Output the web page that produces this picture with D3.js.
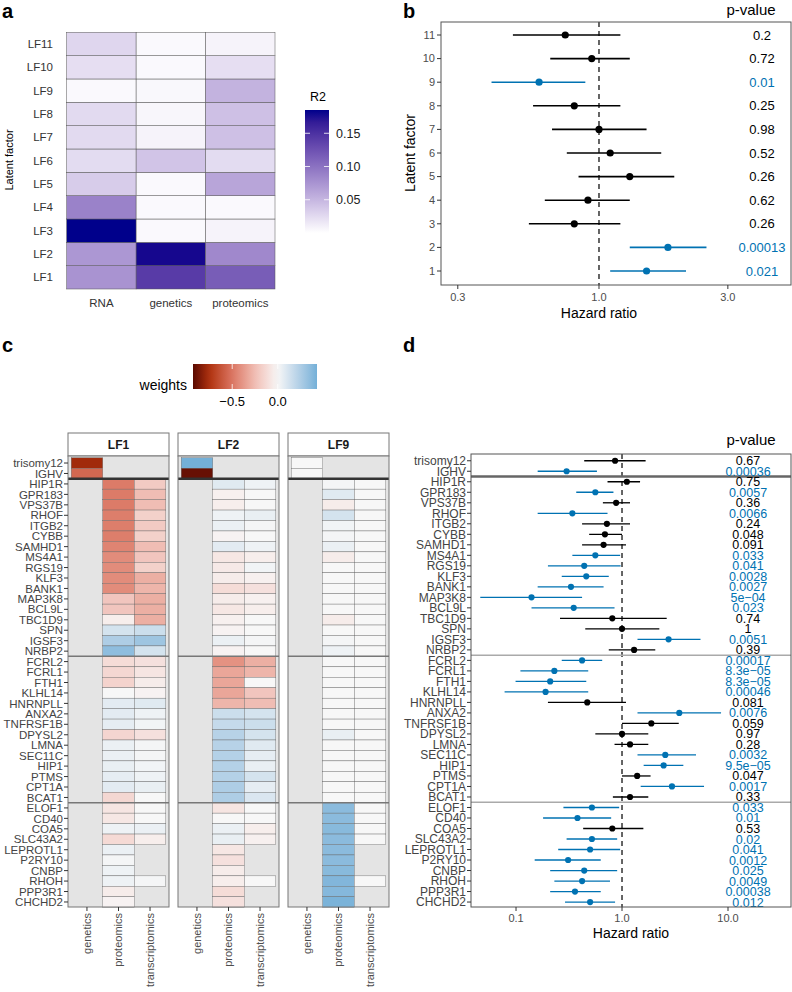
<!DOCTYPE html>
<html>
<head>
<meta charset="utf-8">
<script src="https://cdn.jsdelivr.net/npm/d3@7"></script>
<style>
  body { margin: 0; background: #fff; }
  text { font-family: "Liberation Sans", Arial, Helvetica, sans-serif; }
</style>
</head>
<body>
<svg id="fig" width="792" height="992"></svg>
<script>
// ---------- data: panel a (variance explained) ----------
const factorsA = ['LF1', 'LF2', 'LF3', 'LF4', 'LF5', 'LF6', 'LF7', 'LF8', 'LF9', 'LF10', 'LF11'];
const viewsA = ['RNA', 'genetics', 'proteomics'];
const r2RNA = [0.075, 0.072, 0.185, 0.088, 0.035, 0.024, 0.025, 0.025, 0.004, 0.022, 0.028];
const r2Genetics = [0.142, 0.18, 0.004, 0.004, 0.004, 0.04, 0.008, 0.006, 0.005, 0.004, 0.004];
const r2Proteomics = [0.116, 0.083, 0.008, 0.004, 0.062, 0.024, 0.043, 0.043, 0.052, 0.022, 0.008];
const r2Ticks = [0.05, 0.10, 0.15];

// ---------- data: panel b (hazard ratio per factor) ----------
const lfIds = [1, 2, 3, 4, 5, 6, 7, 8, 9, 10, 11];
const hrLF = [1.5, 1.8, 0.81, 0.91, 1.3, 1.1, 1.0, 0.81, 0.60, 0.94, 0.75];
const hrLFLow = [1.1, 1.3, 0.55, 0.63, 0.84, 0.76, 0.67, 0.57, 0.40, 0.66, 0.48];
const hrLFHigh = [2.1, 2.5, 1.2, 1.3, 1.9, 1.7, 1.5, 1.2, 0.89, 1.3, 1.2];
const pLF = ['0.021', '0.00013', '0.26', '0.62', '0.26', '0.52', '0.98', '0.25', '0.01', '0.72', '0.2'];
const sigLF = [true, true, false, false, false, false, false, false, true, false, false];
const hrTicksB = [0.3, 1, 3];

// ---------- data: panels c and d (features) ----------
const features = ['trisomy12', 'IGHV',
  'HIP1R', 'GPR183', 'VPS37B', 'RHOF', 'ITGB2', 'CYBB', 'SAMHD1', 'MS4A1', 'RGS19', 'KLF3', 'BANK1',
  'MAP3K8', 'BCL9L', 'TBC1D9', 'SPN', 'IGSF3', 'NRBP2',
  'FCRL2', 'FCRL1', 'FTH1', 'KLHL14', 'HNRNPLL', 'ANXA2', 'TNFRSF1B', 'DPYSL2', 'LMNA', 'SEC11C',
  'HIP1', 'PTMS', 'CPT1A', 'BCAT1',
  'ELOF1', 'CD40', 'COA5', 'SLC43A2', 'LEPROTL1', 'P2RY10', 'CNBP', 'RHOH', 'PPP3R1', 'CHCHD2'];
const groupStarts = ['HIP1R', 'FCRL2', 'ELOF1'];
const weightViews = ['genetics', 'proteomics', 'transcriptomics'];
const facetsC = ['LF1', 'LF2', 'LF9'];
const N = null;

// genetics weights (only trisomy12, IGHV)
const lf1Genetics = [-0.78, -0.55];
const lf2Genetics = [0.43, -0.9];
const lf9Genetics = [0.0, 0.0];

// proteomics / transcriptomics weights, rows HIP1R .. CHCHD2
const lf1Proteomics = [-0.48, -0.48, -0.48, -0.47, -0.47, -0.47, -0.45, -0.42, -0.42, -0.42, -0.42, -0.22, -0.22, -0.04, 0.12, 0.25, 0.35,
  -0.12, -0.14, -0.16, 0.0, 0.07, 0.07, 0.06, -0.15, 0.04, 0.04, 0.05, 0.06, 0.07, -0.14,
  -0.08, -0.07, 0.03, -0.13, 0.04, 0.01, 0.03, 0.03, -0.05, -0.02];
const lf1Transcriptomics = [-0.2, -0.25, -0.25, -0.17, -0.2, -0.17, -0.25, -0.22, -0.17, -0.3, -0.28, -0.3, -0.3, -0.3, 0.15, 0.3, 0.12,
  -0.1, -0.08, -0.05, -0.02, 0.08, 0.03, 0.02, -0.1, 0.01, 0.01, 0.02, 0.03, 0.05, 0.0,
  0.0, 0.0, 0.04, -0.04, N, N, N, 0.01, N, N];
const lf2Proteomics = [0.08, -0.03, -0.04, 0.03, 0.04, -0.02, 0.07, -0.07, -0.06, -0.05, -0.12, -0.05, -0.07, -0.03, -0.02, 0.04, -0.02,
  -0.4, -0.33, -0.33, -0.33, -0.28, 0.15, 0.17, 0.22, 0.22, 0.23, 0.23, 0.23, 0.25, 0.25,
  -0.08, 0.0, 0.04, 0.05, -0.07, -0.1, -0.05, -0.04, -0.12, -0.1];
const lf2Transcriptomics = [0.03, 0.0, 0.0, 0.05, 0.01, 0.0, 0.03, -0.04, 0.02, -0.03, -0.1, -0.03, -0.04, 0.0, 0.0, 0.01, 0.0,
  -0.3, -0.28, 0.0, -0.22, -0.25, 0.12, 0.15, 0.12, 0.08, 0.06, 0.05, 0.12, 0.06, 0.1,
  0.0, 0.0, -0.04, -0.03, N, N, N, 0.0, N, N];
const lf9Proteomics = [0.01, 0.08, -0.05, 0.12, 0.02, 0.01, 0.04, -0.05, 0.0, 0.0, 0.0, 0.0, 0.0, -0.05, 0.0, 0.01, 0.03,
  0.0, 0.0, 0.0, 0.0, 0.0, 0.0, 0.0, 0.05, 0.0, 0.0, 0.0, 0.0, 0.0, 0.0,
  0.36, 0.36, 0.37, 0.36, 0.36, 0.36, 0.37, 0.39, 0.38, 0.41];
const lf9Transcriptomics = [0.0, 0.0, 0.0, 0.0, 0.0, 0.0, 0.0, 0.0, 0.0, 0.0, 0.0, 0.0, 0.0, 0.0, 0.0, 0.0, 0.0,
  0.0, 0.0, 0.0, 0.0, 0.0, 0.0, 0.0, 0.0, 0.0, 0.0, 0.0, 0.0, 0.0, 0.0,
  0.0, 0.0, 0.0, 0.0, N, N, N, 0.0, N, N];
const weightTicks = [-0.5, 0.0];

// hazard ratios per feature (panel d)
const hrFeat = [0.86, 0.30, 1.11, 0.56, 0.88, 0.34, 0.72, 0.69, 0.67, 0.56, 0.44, 0.46, 0.33, 0.14, 0.35, 0.81, 1.0, 2.75, 1.30,
  0.42, 0.23, 0.21, 0.19, 0.47, 3.47, 1.89, 1.0, 1.19, 2.56, 2.47, 1.39, 2.96, 1.19,
  0.52, 0.38, 0.81, 0.52, 0.50, 0.31, 0.44, 0.42, 0.36, 0.50];
const hrFeatLow = [0.44, 0.16, 0.73, 0.37, 0.66, 0.16, 0.42, 0.49, 0.42, 0.34, 0.20, 0.27, 0.16, 0.046, 0.14, 0.26, 0.45, 1.40, 0.75,
  0.27, 0.11, 0.099, 0.078, 0.20, 1.40, 1.0, 0.56, 0.85, 1.40, 1.60, 1.0, 1.50, 0.82,
  0.28, 0.18, 0.43, 0.30, 0.25, 0.15, 0.21, 0.23, 0.21, 0.29];
const hrFeatHigh = [1.67, 0.58, 1.48, 0.83, 1.19, 0.73, 1.19, 1.0, 1.09, 0.96, 0.97, 0.75, 0.67, 0.42, 0.85, 2.64, 2.25, 5.5, 2.06,
  0.65, 0.48, 0.46, 0.48, 1.09, 8.6, 3.43, 1.77, 1.77, 4.99, 3.79, 1.86, 5.94, 1.77,
  0.94, 0.79, 1.59, 0.90, 0.96, 0.63, 0.90, 0.77, 0.63, 0.86];
const pFeat = ['0.67', '0.00036', '0.75', '0.0057', '0.36', '0.0066', '0.24', '0.048', '0.091', '0.033', '0.041', '0.0028',
  '0.0027', '5e\u221204', '0.023', '0.74', '1', '0.0051', '0.39',
  '0.00017', '8.3e\u221205', '8.3e\u221205', '0.00046', '0.081', '0.0076', '0.059', '0.97', '0.28', '0.0032', '9.5e\u221205',
  '0.047', '0.0017', '0.33',
  '0.033', '0.01', '0.53', '0.02', '0.041', '0.0012', '0.025', '0.0049', '0.00038', '0.012'];
const sigFeat = [false, true, false, true, false, true, false, false, false, true, true, true, true, true, true, false, false, true, false,
  true, true, true, true, false, true, false, false, false, true, true, false, true, false,
  true, true, false, true, true, true, true, true, true, true];
const hrTicksD = [0.1, 1, 10];

// ---------- setup ----------
const svg = d3.select('#fig');
const BLUE = '#0072B2';
const AXIS_GREY = '#4d4d4d';
const fmt1 = d3.format('.1f');

const panelLabel = (x, y, s) => svg.append('text')
  .attr('x', x).attr('y', y).attr('font-size', 20).attr('font-weight', 'bold').text(s);

panelLabel(2, 18, 'a');
panelLabel(403, 18, 'b');
panelLabel(2, 352, 'c');
panelLabel(403, 352, 'd');

/* ---------- Panel a ---------- */
const gA = svg.append('g');
const r2Max = d3.max([...r2RNA, ...r2Genetics, ...r2Proteomics]);
const colorA = d3.scaleLinear().domain([0, r2Max]).range(['#ffffff', '#00008b']).interpolate(d3.interpolateLab);
const xA = d3.scaleBand().domain(viewsA).range([66.7, 275]);
const yA = d3.scaleBand().domain(factorsA.slice().reverse()).range([32.3, 289]);

const cellsA = [];
factorsA.forEach((f, i) => {
  cellsA.push({ f, view: 'RNA', v: r2RNA[i] });
  cellsA.push({ f, view: 'genetics', v: r2Genetics[i] });
  cellsA.push({ f, view: 'proteomics', v: r2Proteomics[i] });
});

gA.selectAll('rect.cell')
  .data(cellsA)
  .join('rect')
  .attr('x', d => xA(d.view))
  .attr('y', d => yA(d.f))
  .attr('width', xA.bandwidth())
  .attr('height', yA.bandwidth())
  .attr('fill', d => colorA(d.v))
  .attr('stroke', '#555')
  .attr('stroke-width', 0.5);

gA.selectAll('text.row')
  .data(factorsA)
  .join('text')
  .attr('x', 53)
  .attr('y', d => yA(d) + yA.bandwidth() / 2)
  .attr('dy', '0.35em')
  .attr('text-anchor', 'end')
  .attr('font-size', 11.5)
  .attr('fill', '#333')
  .text(d => d);

gA.selectAll('text.col')
  .data(viewsA)
  .join('text')
  .attr('x', d => xA(d) + xA.bandwidth() / 2)
  .attr('y', 307)
  .attr('text-anchor', 'middle')
  .attr('font-size', 11.5)
  .attr('fill', '#333')
  .text(d => d);

gA.append('text')
  .attr('transform', 'translate(13,160) rotate(-90)')
  .attr('text-anchor', 'middle')
  .attr('font-size', 11)
  .text('Latent factor');

// R2 colour bar
const yR2 = d3.scaleLinear().domain([0, r2Max]).range([233, 110]);
const defs = svg.append('defs');
const gradA = defs.append('linearGradient').attr('id', 'gradA')
  .attr('x1', 0).attr('y1', 1).attr('x2', 0).attr('y2', 0);
d3.range(0, 1.001, 0.1).forEach(t => {
  gradA.append('stop').attr('offset', t).attr('stop-color', colorA(t * r2Max));
});
gA.append('rect')
  .attr('x', 305).attr('y', yR2(r2Max))
  .attr('width', 24).attr('height', yR2(0) - yR2(r2Max))
  .attr('fill', 'url(#gradA)');
r2Ticks.forEach(t => {
  gA.append('line').attr('x1', 305).attr('x2', 310).attr('y1', yR2(t)).attr('y2', yR2(t))
    .attr('stroke', '#fff').attr('stroke-width', 0.8);
  gA.append('line').attr('x1', 324).attr('x2', 329).attr('y1', yR2(t)).attr('y2', yR2(t))
    .attr('stroke', '#fff').attr('stroke-width', 0.8);
  gA.append('text').attr('x', 336).attr('y', yR2(t)).attr('dy', '0.35em')
    .attr('font-size', 12.5).attr('fill', '#222').text(d3.format('.2f')(t));
});
gA.append('text').attr('x', 310).attr('y', 101).attr('font-size', 12.5).text('R2');

/* ---------- Panel b ---------- */
const gB = svg.append('g');
const bBox = { left: 441, right: 791, top: 22, bottom: 285 };
const xB = d3.scaleLog().domain([0.26, 5.14]).range([bBox.left, bBox.right]);
const yB = d3.scaleLinear().domain([1, 11]).range([271, 35]);

const forestB = lfIds.map((id, i) => ({
  id, hr: hrLF[i], lo: hrLFLow[i], hi: hrLFHigh[i], p: pLF[i], col: sigLF[i] ? BLUE : '#000'
}));

gB.append('line')
  .attr('x1', xB(1)).attr('x2', xB(1))
  .attr('y1', bBox.top).attr('y2', bBox.bottom)
  .attr('stroke', '#333').attr('stroke-width', 1.5).attr('stroke-dasharray', '5,4');

gB.selectAll('line.err')
  .data(forestB)
  .join('line')
  .attr('x1', d => xB(d.lo)).attr('x2', d => xB(d.hi))
  .attr('y1', d => yB(d.id)).attr('y2', d => yB(d.id))
  .attr('stroke', d => d.col).attr('stroke-width', 1.6);

gB.selectAll('circle')
  .data(forestB)
  .join('circle')
  .attr('cx', d => xB(d.hr))
  .attr('cy', d => yB(d.id))
  .attr('r', 3.6)
  .attr('fill', d => d.col);

gB.selectAll('text.p')
  .data(forestB)
  .join('text')
  .attr('x', 762)
  .attr('y', d => yB(d.id))
  .attr('dy', '0.36em')
  .attr('text-anchor', 'middle')
  .attr('font-size', 13)
  .attr('fill', d => d.col)
  .text(d => d.p);

gB.append('text').attr('x', 751).attr('y', 15).attr('text-anchor', 'middle')
  .attr('font-size', 15).text('p-value');

gB.append('rect')
  .attr('x', bBox.left).attr('y', bBox.top)
  .attr('width', bBox.right - bBox.left).attr('height', bBox.bottom - bBox.top)
  .attr('fill', 'none').attr('stroke', '#555').attr('stroke-width', 1);

lfIds.forEach(id => {
  gB.append('line').attr('x1', bBox.left - 4).attr('x2', bBox.left)
    .attr('y1', yB(id)).attr('y2', yB(id)).attr('stroke', '#333');
  gB.append('text').attr('x', bBox.left - 6).attr('y', yB(id)).attr('dy', '0.35em')
    .attr('text-anchor', 'end').attr('font-size', 11).attr('fill', AXIS_GREY).text(id);
});
hrTicksB.forEach(t => {
  gB.append('line').attr('x1', xB(t)).attr('x2', xB(t))
    .attr('y1', bBox.bottom).attr('y2', bBox.bottom + 4).attr('stroke', '#333');
  gB.append('text').attr('x', xB(t)).attr('y', 301).attr('text-anchor', 'middle')
    .attr('font-size', 11).attr('fill', AXIS_GREY).text(fmt1(t));
});
gB.append('text').attr('x', 599).attr('y', 318).attr('text-anchor', 'middle')
  .attr('font-size', 14).text('Hazard ratio');
gB.append('text')
  .attr('transform', 'translate(415,153) rotate(-90)')
  .attr('text-anchor', 'middle')
  .attr('font-size', 14)
  .text('Latent factor');

/* ---------- Panel c ---------- */
const gC = svg.append('g');
const colorW = d3.scaleLinear()
  .domain([-0.93, -0.75, -0.5, -0.23, 0, 0.43])
  .range(['#5a0a00', '#b0300c', '#da7562', '#f1c3bb', '#f7f7f7', '#74b0d8'])
  .interpolate(d3.interpolateLab)
  .clamp(true);

// legend
const xW = d3.scaleLinear().domain([-0.93, 0.43]).range([193, 317]);
const gradC = defs.append('linearGradient').attr('id', 'gradC');
d3.range(0, 1.001, 0.05).forEach(t => {
  const v = -0.93 + t * 1.36;
  gradC.append('stop').attr('offset', t).attr('stop-color', colorW(v));
});
gC.append('rect').attr('x', xW(-0.93)).attr('y', 364)
  .attr('width', xW(0.43) - xW(-0.93)).attr('height', 25).attr('fill', 'url(#gradC)');
weightTicks.forEach(t => {
  gC.append('line').attr('x1', xW(t)).attr('x2', xW(t)).attr('y1', 364).attr('y2', 369)
    .attr('stroke', '#fff').attr('stroke-width', 0.8);
  gC.append('line').attr('x1', xW(t)).attr('x2', xW(t)).attr('y1', 384).attr('y2', 389)
    .attr('stroke', '#fff').attr('stroke-width', 0.8);
  gC.append('text').attr('x', xW(t)).attr('y', 406).attr('text-anchor', 'middle')
    .attr('font-size', 13).text(t === 0 ? '0.0' : '\u22120.5');
});
gC.append('text').attr('x', 187).attr('y', 390).attr('text-anchor', 'end')
  .attr('font-size', 14).text('weights');

const yC = d3.scaleBand().domain(features).range([457.8, 907.2]);
const facetX = d3.scaleOrdinal().domain(facetsC).range([68, 178, 288]);
const facetW = 101;
const xC = d3.scaleBand().domain(weightViews).range([3.2, facetW - 3.2]);

const weightsByFacet = {
  LF1: [lf1Genetics, lf1Proteomics, lf1Transcriptomics],
  LF2: [lf2Genetics, lf2Proteomics, lf2Transcriptomics],
  LF9: [lf9Genetics, lf9Proteomics, lf9Transcriptomics]
};

facetsC.forEach(lf => {
  const g = gC.append('g').attr('transform', `translate(${facetX(lf)},0)`);
  const [gen, prot, trans] = weightsByFacet[lf];
  const cells = [];
  gen.forEach((v, i) => cells.push({ f: features[i], view: 'genetics', v }));
  prot.forEach((v, i) => { if (v !== null) cells.push({ f: features[i + 2], view: 'proteomics', v }); });
  trans.forEach((v, i) => { if (v !== null) cells.push({ f: features[i + 2], view: 'transcriptomics', v }); });

  // strip
  g.append('rect').attr('x', 0).attr('y', 433).attr('width', facetW).attr('height', 23)
    .attr('fill', '#fff').attr('stroke', '#777').attr('stroke-width', 1);
  g.append('text').attr('x', facetW / 2).attr('y', 444.5).attr('dy', '0.36em')
    .attr('text-anchor', 'middle').attr('font-size', 12).attr('font-weight', 'bold')
    .attr('fill', '#1a1a1a').text(lf);

  g.append('rect').attr('x', 0).attr('y', 456).attr('width', facetW).attr('height', 907 - 456)
    .attr('fill', '#e4e4e4');

  g.selectAll('rect.tile')
    .data(cells)
    .join('rect')
    .attr('x', d => xC(d.view))
    .attr('y', d => yC(d.f))
    .attr('width', xC.bandwidth())
    .attr('height', yC.bandwidth())
    .attr('fill', d => colorW(d.v))
    .attr('stroke', '#666')
    .attr('stroke-width', 0.4);

  groupStarts.forEach((f, k) => {
    g.append('line').attr('x1', 0).attr('x2', facetW)
      .attr('y1', yC(f)).attr('y2', yC(f))
      .attr('stroke', k === 0 ? '#333' : '#777')
      .attr('stroke-width', k === 0 ? 2.5 : 1.5);
  });

  g.append('rect').attr('x', 0).attr('y', 456).attr('width', facetW).attr('height', 907 - 456)
    .attr('fill', 'none').attr('stroke', '#777').attr('stroke-width', 1);

  weightViews.forEach(v => {
    const cx = xC(v) + xC.bandwidth() / 2;
    g.append('line').attr('x1', cx).attr('x2', cx).attr('y1', 907).attr('y2', 911)
      .attr('stroke', '#333');
    g.append('text')
      .attr('transform', `translate(${cx},913) rotate(-90)`)
      .attr('dy', '0.35em')
      .attr('text-anchor', 'end')
      .attr('font-size', 11)
      .attr('fill', AXIS_GREY)
      .text(v);
  });
});

features.forEach(f => {
  const y = yC(f) + yC.bandwidth() / 2;
  gC.append('line').attr('x1', 64).attr('x2', 68).attr('y1', y).attr('y2', y).attr('stroke', '#333');
  gC.append('text').attr('x', 63).attr('y', y).attr('dy', '0.36em').attr('text-anchor', 'end')
    .attr('font-size', 11.5).attr('fill', '#444').text(f);
});

/* ---------- Panel d ---------- */
const gD = svg.append('g');
const dBox = { left: 471, right: 791, top: 454, bottom: 907 };
const xD = d3.scaleLog().domain([0.0376, 39.3]).range([dBox.left, dBox.right]);
const yD = d3.scaleBand().domain(features).range([455.5, 907.3]);
const yMid = f => yD(f) + yD.bandwidth() / 2;

const forestD = features.map((f, i) => ({
  f, hr: hrFeat[i], lo: hrFeatLow[i], hi: hrFeatHigh[i], p: pFeat[i], col: sigFeat[i] ? BLUE : '#000'
}));

gD.append('line')
  .attr('x1', xD(1)).attr('x2', xD(1))
  .attr('y1', dBox.top).attr('y2', dBox.bottom)
  .attr('stroke', '#333').attr('stroke-width', 1.5).attr('stroke-dasharray', '5,4');

groupStarts.forEach((f, k) => {
  gD.append('line').attr('x1', dBox.left).attr('x2', dBox.right)
    .attr('y1', yD(f)).attr('y2', yD(f))
    .attr('stroke', k === 0 ? '#666' : '#aaa')
    .attr('stroke-width', k === 0 ? 2.5 : 1.5);
});

gD.selectAll('line.err')
  .data(forestD)
  .join('line')
  .attr('x1', d => xD(d.lo)).attr('x2', d => xD(d.hi))
  .attr('y1', d => yMid(d.f)).attr('y2', d => yMid(d.f))
  .attr('stroke', d => d.col).attr('stroke-width', 1.3);

gD.selectAll('circle')
  .data(forestD)
  .join('circle')
  .attr('cx', d => xD(d.hr))
  .attr('cy', d => yMid(d.f))
  .attr('r', 3.1)
  .attr('fill', d => d.col);

gD.selectAll('text.p')
  .data(forestD)
  .join('text')
  .attr('x', 748)
  .attr('y', d => yMid(d.f))
  .attr('dy', '0.36em')
  .attr('text-anchor', 'middle')
  .attr('font-size', 12.5)
  .attr('fill', d => d.col)
  .text(d => d.p);

gD.append('text').attr('x', 751).attr('y', 445).attr('text-anchor', 'middle')
  .attr('font-size', 15).text('p-value');

gD.append('rect')
  .attr('x', dBox.left).attr('y', dBox.top)
  .attr('width', dBox.right - dBox.left).attr('height', dBox.bottom - dBox.top)
  .attr('fill', 'none').attr('stroke', '#555').attr('stroke-width', 1);

features.forEach(f => {
  gD.append('line').attr('x1', dBox.left - 4).attr('x2', dBox.left)
    .attr('y1', yMid(f)).attr('y2', yMid(f)).attr('stroke', '#333');
  gD.append('text').attr('x', dBox.left - 5).attr('y', yMid(f)).attr('dy', '0.36em')
    .attr('text-anchor', 'end').attr('font-size', 12).attr('fill', '#444').text(f);
});
hrTicksD.forEach(t => {
  gD.append('line').attr('x1', xD(t)).attr('x2', xD(t))
    .attr('y1', dBox.bottom).attr('y2', dBox.bottom + 4).attr('stroke', '#333');
  gD.append('text').attr('x', xD(t)).attr('y', 922).attr('text-anchor', 'middle')
    .attr('font-size', 11).attr('fill', AXIS_GREY).text(fmt1(t));
});
gD.append('text').attr('x', (dBox.left + dBox.right) / 2).attr('y', 938).attr('text-anchor', 'middle')
  .attr('font-size', 14).text('Hazard ratio');
</script>
</body>
</html>
